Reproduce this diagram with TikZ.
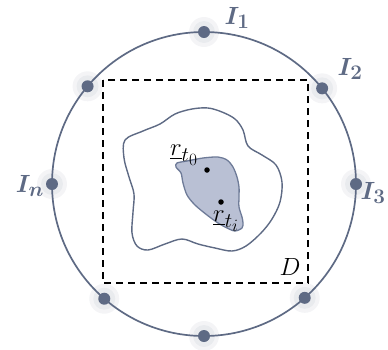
\documentclass[tikz,border=0pt]{standalone}
\usepackage{amsmath,bm}
\usetikzlibrary{calc}
\definecolor{slate}{HTML}{5E6A84}
\definecolor{blobfill}{HTML}{B9C0D4}
\definecolor{blobline}{HTML}{6E7B98}
\tikzset{
  ring/.style={draw=slate, line width=1.7pt},
  sensor/.style={circle, fill=slate, inner sep=0pt, minimum size=12pt},
  glow/.style={fill=slate, opacity=0.07},
  lab/.style={text=slate, font=\Huge},
  dombox/.style={draw=black, line width=1.5pt, dash pattern=on 7pt off 5pt},
  contour/.style={draw=slate, line width=1.4pt},
  region/.style={draw=blobline, fill=blobfill, line width=1.3pt},
  pt/.style={circle, fill=black, inner sep=0pt, minimum size=5.5pt},
  rlab/.style={font=\Huge, inner sep=0pt}
}
\begin{document}
\begin{tikzpicture}[x=1pt,y=-1pt]
\useasboundingbox (0,0) rectangle (388,349);
\coordinate (c) at (204,184);
\draw[ring] (c) circle (152pt);
% sensors
\foreach \a/\n in {90/s1,39/s2,0/s3,-48.5/s4,-90/s5,-131/s6,180/sn,140/s8}{
  \fill[glow] ($(c)+(\a:152pt)$) circle (15pt);
  \fill[glow] ($(c)+(\a:152pt)$) circle (11pt);
  \node[sensor] (\n) at ($(c)+(\a:152pt)$) {};
}
\node[lab] (l1) at (237,18) {$\bm{I_1}$};
\node[lab] (l2) at (350,69) {$\bm{I_2}$};
\node[lab] (l3) at (373,193) {$\bm{I_3}$};
\node[lab] (ln) at (30,186) {$\bm{I_n}$};
% domain
\draw[dombox] (103,80) rectangle (308,283);
\node[font=\Huge] (D) at (290,267) {$D$};
% outer contour
\draw[contour] plot[smooth cycle, tension=0.55] coordinates {
 (125,140) (143,131) (160,124) (175,114) (192,109) (208,108) (222,112) (235,119) (243,130)
 (248,146) (262,155) (276,165) (282,182) (280,202) (272,219) (261,233) (246,246) (232,251)
 (215,248) (198,244) (182,239) (165,244) (148,250) (137,246) (132,233) (133,212) (134,194)
 (129,177) (124,158)};
% inner region
\draw[region] plot[smooth cycle, tension=0.5] coordinates {
 (177,163) (187,161) (203,158) (218,157) (227,160) (233,167) (237,177) (239,187) (239,197)
 (239,207) (242,217) (243,223) (242,228) (235,231) (227,228) (218,223) (207,215) (195,205)
 (187,195) (183,183) (181,173) (176,167)};
\node[pt] (p0) at (207,170) {};
\node[pt] (pi) at (221,202) {};
\node[rlab] (r0) at (184,155) {$\underline{r}_{t_0}$};
\node[rlab] (ri) at (226,221) {$\underline{r}_{t_i}$};
\end{tikzpicture}
\end{document}
